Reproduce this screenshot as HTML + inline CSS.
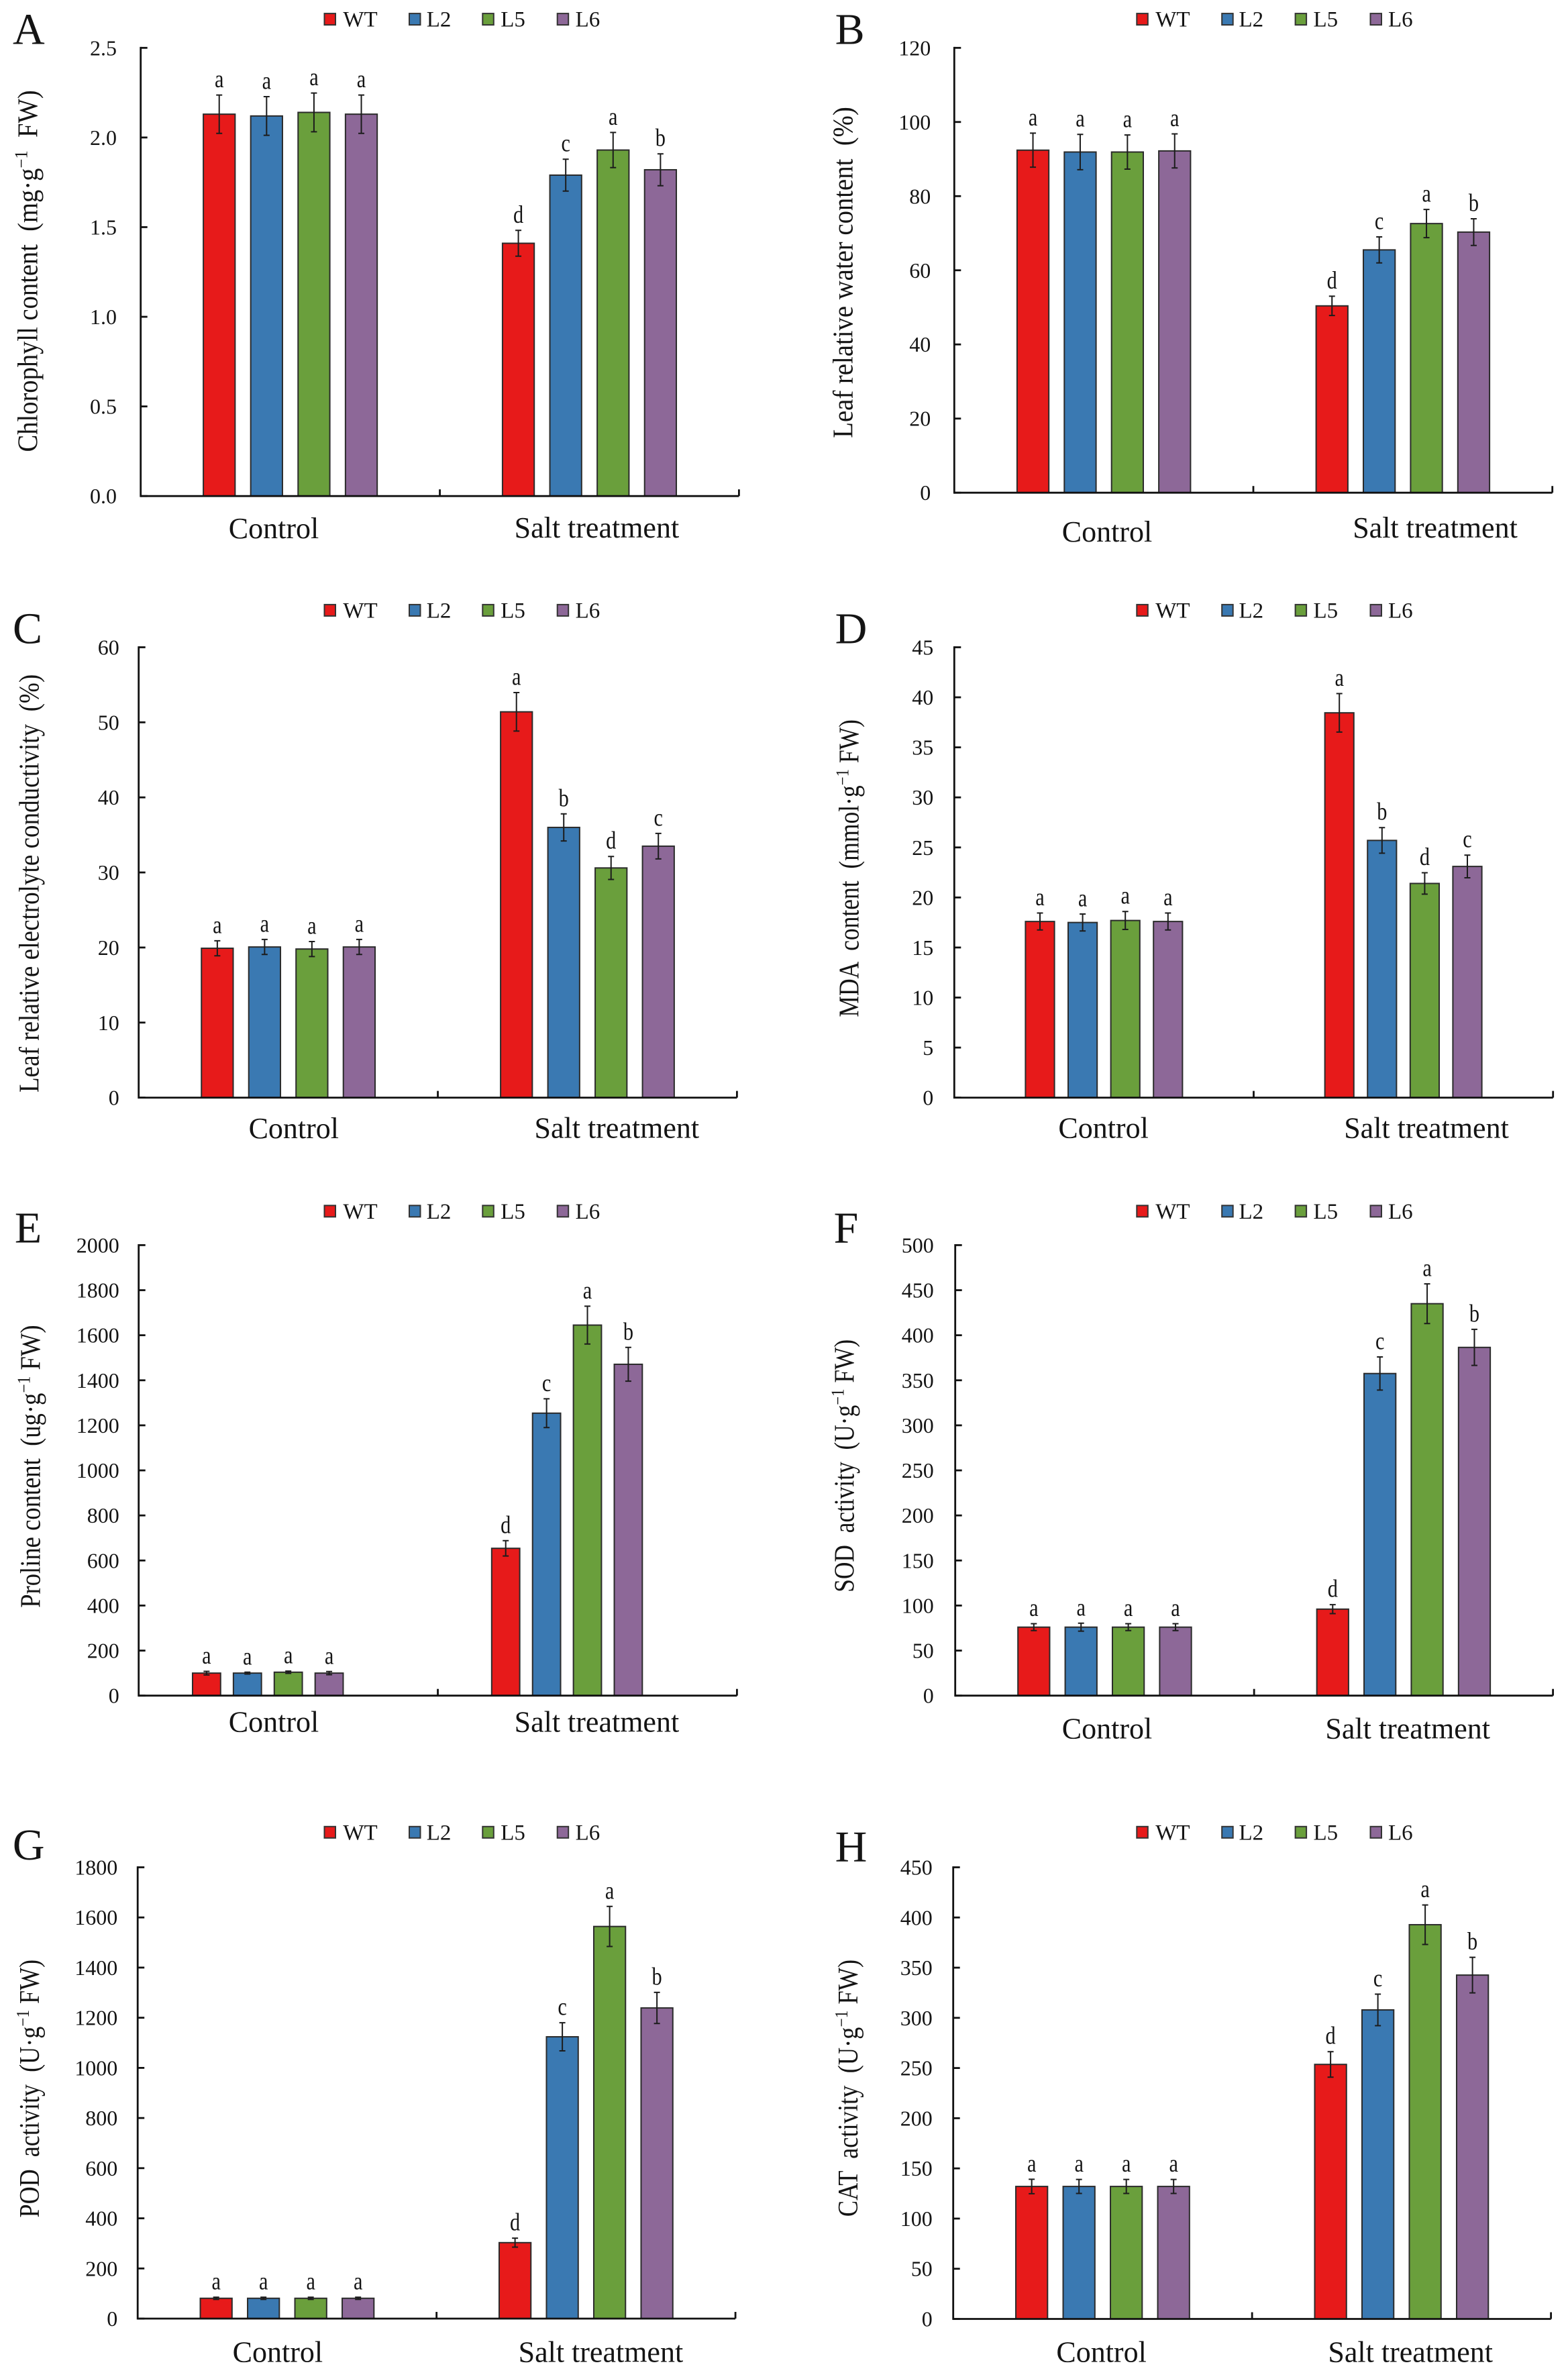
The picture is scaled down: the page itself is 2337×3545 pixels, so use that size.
<!DOCTYPE html>
<html lang="en">
<head>
<meta charset="utf-8">
<title>Physiological indices under control and salt treatment</title>
<style>
html,body{margin:0;padding:0;background:#fff;}
svg{display:block;}
text{font-family:"Liberation Serif",serif;fill:#141414;white-space:pre;}
</style>
</head>
<body>
<svg id="figure" xmlns="http://www.w3.org/2000/svg" width="2337" height="3545" viewBox="0 0 2337 3545"></svg>
<script>
// Shared categories and series
const categories = ['Control', 'Salt treatment'];
const seriesNames = ['WT', 'L2', 'L5', 'L6'];
const seriesColors = ['#E71A1A', '#3A79B2', '#6A9F3C', '#8D6898'];

// Panel A: each array is WT, L2, L5, L6 for Control, then the same for Salt treatment
const chlorophyllTicks = ['0.0', '0.5', '1.0', '1.5', '2.0', '2.5'];
const chlorophyllValues = [2.13, 2.12, 2.14, 2.13, 1.41, 1.79, 1.93, 1.82];
const chlorophyllErrors = [0.107, 0.108, 0.108, 0.107, 0.072, 0.089, 0.098, 0.089];
const chlorophyllLetters = ['a', 'a', 'a', 'a', 'd', 'c', 'a', 'b'];

// Panel B
const waterTicks = ['0', '20', '40', '60', '80', '100', '120'];
const waterValues = [92.4, 91.9, 91.9, 92.2, 50.4, 65.5, 72.6, 70.3];
const waterErrors = [4.6, 4.76, 4.6, 4.6, 2.6, 3.5, 3.8, 3.6];
const waterLetters = ['a', 'a', 'a', 'a', 'd', 'c', 'a', 'b'];

// Panel C
const conductivityTicks = ['0', '10', '20', '30', '40', '50', '60'];
const conductivityValues = [19.9, 20.07, 19.8, 20.07, 51.4, 36, 30.6, 33.5];
const conductivityErrors = [1, 1, 1, 1, 2.56, 1.8, 1.53, 1.7];
const conductivityLetters = ['a', 'a', 'a', 'a', 'a', 'b', 'd', 'c'];

// Panel D
const mdaTicks = ['0', '5', '10', '15', '20', '25', '30', '35', '40', '45'];
const mdaValues = [17.6, 17.5, 17.7, 17.6, 38.45, 25.7, 21.4, 23.1];
const mdaErrors = [0.85, 0.85, 0.9, 0.85, 1.92, 1.28, 1.07, 1.13];
const mdaLetters = ['a', 'a', 'a', 'a', 'a', 'b', 'd', 'c'];

// Panel E
const prolineTicks = ['0', '200', '400', '600', '800', '1000', '1200', '1400', '1600', '1800', '2000'];
const prolineValues = [100, 100, 104, 100, 654, 1254, 1645, 1471];
const prolineErrors = [8, 4, 5, 7, 34, 64, 84, 75];
const prolineLetters = ['a', 'a', 'a', 'a', 'd', 'c', 'a', 'b'];

// Panel F
const sodTicks = ['0', '50', '100', '150', '200', '250', '300', '350', '400', '450', '500'];
const sodValues = [76, 76, 76, 76, 96, 357.5, 435, 386.5];
const sodErrors = [3.8, 4.4, 3.8, 3.8, 5, 18.4, 22, 20];
const sodLetters = ['a', 'a', 'a', 'a', 'd', 'c', 'a', 'b'];

// Panel G
const podTicks = ['0', '200', '400', '600', '800', '1000', '1200', '1400', '1600', '1800'];
const podValues = [81, 81, 81, 81, 303, 1124, 1564, 1239];
const podErrors = [4.4, 4.4, 4.4, 4.4, 18, 56, 80, 62];
const podLetters = ['a', 'a', 'a', 'a', 'd', 'c', 'a', 'b'];

// Panel H
const catTicks = ['0', '50', '100', '150', '200', '250', '300', '350', '400', '450'];
const catValues = [132, 132, 132, 132, 253.6, 307.9, 392.8, 342.6];
const catErrors = [7.2, 7, 7, 7, 12.7, 15.7, 19.7, 17.7];
const catLetters = ['a', 'a', 'a', 'a', 'd', 'c', 'a', 'b'];

// Page layout (not data)
const legendLayouts = {
  left:  { swatch: [483.5, 610, 719.3, 830.7], text: [511.4, 635.7, 746.2, 857.6] },
  right: { swatch: [1694.3, 1821.2, 1930.6, 2042.5], text: [1722.2, 1846.5, 1957.5, 2069] }
};

const panels = [
  { key: 'a', letter: 'A', letterX: 19, letterY: 65.7, x0: 209.7, x1: 1101.4, top: 71.3, base: 739.2, tickGap: 35.7, shift: 0, barW: 47.3, pitch: 70.6,
    legend: 'left', legendY: 28.6, title: ['Chlorophyll content  (mg·g', '−1', '  FW)'], titleX: 55.7, titleFrom: 673.5, titleTo: 134.3,
    catX: [408, 889.4], catY: [801.9, 800.9], ticks: chlorophyllTicks, values: chlorophyllValues, errors: chlorophyllErrors, letters: chlorophyllLetters },
  { key: 'b', letter: 'B', letterX: 1244.6, letterY: 65.7, x0: 1422.3, x1: 2313.7, top: 71.3, base: 734.2, tickGap: 35, shift: 0, barW: 47.3, pitch: 70.4,
    legend: 'right', legendY: 28.6, title: ['Leaf relative water content  (%)', '', ''], titleX: 1270.5, titleFrom: 652.7, titleTo: 159.2,
    catX: [1650, 2139], catY: [806.9, 800.9], ticks: waterTicks, values: waterValues, errors: waterErrors, letters: waterLetters },
  { key: 'c', letter: 'C', letterX: 19, letterY: 958.5, x0: 206.7, x1: 1098.4, top: 964.5, base: 1635.6, tickGap: 29, shift: 0, barW: 47.3, pitch: 70.5,
    legend: 'left', legendY: 909.4, title: ['Leaf relative electrolyte conductivity  (%)', '', ''], titleX: 57.7, titleFrom: 1628, titleTo: 1004.8,
    catX: [437.8, 919.3], catY: [1696.2, 1695.7], ticks: conductivityTicks, values: conductivityValues, errors: conductivityErrors, letters: conductivityLetters },
  { key: 'd', letter: 'D', letterX: 1244.6, letterY: 958.5, x0: 1422.3, x1: 2314.7, top: 964.5, base: 1635.6, tickGap: 31, shift: 0, barW: 43.2, pitch: 63.6,
    legend: 'right', legendY: 909.4, title: ['MDA  content  (mmol·g', '−1', ' FW)'], titleX: 1279.4, titleFrom: 1515.6, titleTo: 1072,
    catX: [1644.6, 2126], catY: [1695.7, 1695.7], ticks: mdaTicks, values: mdaValues, errors: mdaErrors, letters: mdaLetters },
  { key: 'e', letter: 'E', letterX: 21.9, letterY: 1851.5, x0: 206.7, x1: 1098.4, top: 1855.4, base: 2526.7, tickGap: 29, shift: -30.4, barW: 41.8, pitch: 60.9,
    legend: 'left', legendY: 1804.8, title: ['Proline content  (ug·g', '−1', ' FW)'], titleX: 59.7, titleFrom: 2395.8, titleTo: 1974.4,
    catX: [408, 889.4], catY: [2580.6, 2580.6], ticks: prolineTicks, values: prolineValues, errors: prolineErrors, letters: prolineLetters },
  { key: 'f', letter: 'F', letterX: 1242.6, letterY: 1851.5, x0: 1423.7, x1: 2314.6, top: 1855.4, base: 2526.7, tickGap: 32, shift: 0, barW: 47.3, pitch: 70.4,
    legend: 'right', legendY: 1804.8, title: ['SOD  activity  (U·g', '−1', ' FW)'], titleX: 1272.5, titleFrom: 2372.8, titleTo: 1995.8,
    catX: [1650, 2098.2], catY: [2590.5, 2590.5], ticks: sodTicks, values: sodValues, errors: sodErrors, letters: sodLetters },
  { key: 'g', letter: 'G', letterX: 18.9, letterY: 2771, x0: 205.2, x1: 1096.1, top: 2782.5, base: 3455, tickGap: 30, shift: 0, barW: 47.3, pitch: 70.5,
    legend: 'left', legendY: 2730.3, title: ['POD  activity  (U·g', '−1', ' FW)'], titleX: 58.2, titleFrom: 3304.5, titleTo: 2919.8,
    catX: [413.9, 895.4], catY: [3519.7, 3519.7], ticks: podTicks, values: podValues, errors: podErrors, letters: podLetters },
  { key: 'h', letter: 'H', letterX: 1244.6, letterY: 2773.5, x0: 1420.7, x1: 2311.6, top: 2782.5, base: 3455.5, tickGap: 31, shift: 0, barW: 47.3, pitch: 70.5,
    legend: 'right', legendY: 2730.3, title: ['CAT  activity  (U·g', '−1', ' FW)'], titleX: 1278, titleFrom: 3303.3, titleTo: 2919.8,
    catX: [1641.6, 2102.2], catY: [3519.7, 3519.7], ticks: catTicks, values: catValues, errors: catErrors, letters: catLetters }
];

const SVG_NS = 'http://www.w3.org/2000/svg';
const figure = document.getElementById('figure');

function shape(tag, parent, attrs) {
  const el = document.createElementNS(SVG_NS, tag);
  for (const k in attrs) el.setAttribute(k, attrs[k]);
  parent.appendChild(el);
  return el;
}

function drawPanel(p) {
  const maxValue = parseFloat(p.ticks[p.ticks.length - 1]);
  const yScale = v => p.base - (v / maxValue) * (p.base - p.top);
  const catWidth = (p.x1 - p.x0) / categories.length;
  const catCenter = c => p.x0 + catWidth * (c + 0.5) + p.shift;
  const barCenter = (c, s) => catCenter(c) + (s - (seriesNames.length - 1) / 2) * p.pitch;

  const g = shape('g', figure, {});
  
  

  const panelLetter = shape('text', g, { x: p.letterX, y: p.letterY, 'font-size': 66 });
  panelLetter.textContent = p.letter;
  
  

  // Legend
  const layout = legendLayouts[p.legend];
  seriesNames.forEach((name, s) => {
    const swatch = shape('rect', g, { x: layout.swatch[s], y: p.legendY - 8.5, width: 16.5, height: 17, fill: seriesColors[s], stroke: '#333', 'stroke-width': 2 });
    
    
    const label = shape('text', g, { x: layout.text[s], y: p.legendY + 11, 'font-size': 33 });
    label.textContent = name;
    
    
  });

  // Y axis title
  const midY = (p.titleFrom + p.titleTo) / 2;
  const title = shape('text', g, {
    'font-size': 42, 'text-anchor': 'middle',
    transform: 'translate(' + p.titleX + ',' + midY + ') rotate(-90)',
    textLength: p.titleFrom - p.titleTo, lengthAdjust: 'spacingAndGlyphs'
  });
  
  
  const partA = shape('tspan', title, {});
  partA.textContent = p.title[0];
  if (p.title[1]) {
    const sup = shape('tspan', title, { dy: -15, 'font-size': 27 });
    sup.textContent = p.title[1];
    const partB = shape('tspan', title, { dy: 15 });
    partB.textContent = p.title[2];
  }

  // Bars, error bars and significance letters
  categories.forEach((cat, c) => {
    seriesNames.forEach((name, s) => {
      const idx = c * seriesNames.length + s;
      const value = p.values[idx];
      const err = p.errors[idx];
      const cx = barCenter(c, s);
      const bar = shape('rect', g, { x: cx - p.barW / 2, y: yScale(value), width: p.barW, height: p.base - yScale(value), fill: seriesColors[s], stroke: '#2b2b2b', 'stroke-width': 2 });
      
      

      const hi = yScale(value + err);
      const lo = yScale(value - err);
      const errorPath = shape('path', g, { d: 'M' + (cx - 4.5) + ' ' + hi + 'H' + (cx + 4.5) + 'M' + cx + ' ' + hi + 'V' + lo + 'M' + (cx - 4.5) + ' ' + lo + 'H' + (cx + 4.5), fill: 'none', stroke: '#1c1c1c', 'stroke-width': 2 });
      
      

      const letter = shape('text', g, { 'font-size': 37, 'text-anchor': 'middle', transform: 'translate(' + cx + ',' + (hi - 11.5) + ') scale(0.82,1)' });
      letter.textContent = p.letters[idx];
      
      
    });

    const catLabel = shape('text', g, { x: p.catX[c], y: p.catY[c], 'font-size': 44, 'text-anchor': 'middle' });
    catLabel.textContent = cat;
    
    
  });

  // Axes
  const axisStyle = { fill: 'none', stroke: '#111', 'stroke-width': 2.8 };
  const yAxis = shape('line', g, Object.assign({ x1: p.x0, x2: p.x0, y1: p.top - 1.4, y2: p.base + 1.4 }, axisStyle));
  
  
  const xAxis = shape('line', g, Object.assign({ x1: p.x0, x2: p.x1, y1: p.base, y2: p.base }, axisStyle));
  
  

  p.ticks.forEach(t => {
    const v = parseFloat(t);
    const tick = shape('line', g, Object.assign({ x1: p.x0, x2: p.x0 + 10, y1: yScale(v), y2: yScale(v) }, axisStyle));
    
    
    const tickLabel = shape('text', g, { x: p.x0 - p.tickGap, y: yScale(v) + 11, 'font-size': 32, 'text-anchor': 'end' });
    tickLabel.textContent = t;
    
    
  });

  [1, 2].forEach(n => {
    const xt = p.x0 + catWidth * n;
    const xTick = shape('line', g, Object.assign({ x1: xt, x2: xt, y1: p.base, y2: p.base - 10 }, axisStyle));
    
    
  });
}

panels.forEach(drawPanel);
</script>
</body>
</html>
